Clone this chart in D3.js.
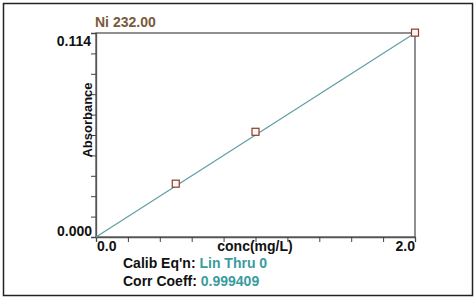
<!DOCTYPE html>
<html><head><meta charset="utf-8">
<script src="https://cdn.jsdelivr.net/npm/d3@7"></script>
<style>
html,body{margin:0;padding:0;background:#fff;}
svg{display:block;font-family:"Liberation Sans",Arial,Helvetica,sans-serif;font-weight:bold;}
</style></head>
<body><svg id="chart" width="476" height="300"></svg>
<script>
const title = "Ni 232.00";
const concentrations = [0.5, 1.0, 2.0];
const absorbances = [0.0298, 0.0588, 0.1142];
const fitLineX = [0.0, 2.0];
const fitLineY = [0.0, 0.114];
const xTickLabels = ["0.0", "2.0"];
const yTickLabels = ["0.000", "0.114"];
const xLabel = "conc(mg/L)";
const yLabel = "Absorbance";
const infoLabels = ["Calib Eq'n:", "Corr Coeff:"];
const infoValues = ["Lin Thru 0", "0.999409"];

const svg = d3.select("#chart");
const m = {left: 96, top: 33, right: 415, bottom: 237};
const x = d3.scaleLinear().domain([0, 2]).range([m.left, m.right]);
const y = d3.scaleLinear().domain([0, 0.114]).range([m.bottom, m.top]);

// outer frame
svg.append("rect").attr("x", 3.5).attr("y", 3.5).attr("width", 469).attr("height", 292)
  .attr("fill", "none").attr("stroke", "#222").attr("stroke-width", 1.5);

// plot frame
svg.append("rect").attr("x", m.left).attr("y", m.top).attr("width", m.right - m.left).attr("height", m.bottom - m.top)
  .attr("fill", "none").attr("stroke", "#555").attr("stroke-width", 1.3);

// axes ticks
const xAxis = d3.axisBottom(x).tickValues(d3.range(0, 11).map(i => i * 0.2)).tickSize(5).tickFormat("");
svg.append("g").attr("transform", `translate(0,${m.bottom})`).call(xAxis)
  .call(g => { g.select(".domain").attr("stroke", "#555").attr("stroke-width", 1.3); g.selectAll(".tick line").attr("stroke", "#444"); });
const yAxis = d3.axisLeft(y).tickValues(d3.range(0, 11).map(i => i * 0.0114)).tickSize(5).tickFormat("");
svg.append("g").attr("transform", `translate(${m.left},0)`).call(yAxis)
  .call(g => { g.select(".domain").attr("stroke", "#555").attr("stroke-width", 1.3); g.selectAll(".tick line").attr("stroke", "#444"); });

// fit line
const line = d3.line().x(d => x(d[0])).y(d => y(d[1]));
svg.append("path").datum(fitLineX.map((v, i) => [v, fitLineY[i]])).attr("d", line)
  .attr("fill", "none").attr("stroke", "#5f9ea3").attr("stroke-width", 1.2);

// points
svg.selectAll("rect.pt").data(concentrations.map((c, i) => [c, absorbances[i]])).enter()
  .append("rect").attr("class", "pt")
  .attr("x", d => x(d[0]) - 3.5).attr("y", d => y(d[1]) - 3.5).attr("width", 7).attr("height", 7)
  .attr("fill", "#fff8f4").attr("stroke", "#8a3a2c").attr("stroke-width", 1.2);

// title
svg.append("text").attr("x", 95).attr("y", 27).attr("fill", "#7a5a3c").attr("font-size", 14).text(title);

// y tick labels
svg.append("text").attr("x", 91).attr("y", 46).attr("text-anchor", "end").attr("font-size", 14).attr("fill", "#111").text(yTickLabels[1]);
svg.append("text").attr("x", 92).attr("y", 236).attr("text-anchor", "end").attr("font-size", 14).attr("fill", "#111").text(yTickLabels[0]);

// x tick labels
svg.append("text").attr("x", 97).attr("y", 251).attr("font-size", 14).attr("fill", "#111").text(xTickLabels[0]);
svg.append("text").attr("x", 415).attr("y", 251).attr("text-anchor", "end").attr("font-size", 14).attr("fill", "#111").text(xTickLabels[1]);

// axis labels
svg.append("text").attr("x", 255).attr("y", 251).attr("text-anchor", "middle").attr("font-size", 14).attr("fill", "#111").text(xLabel);
svg.append("text").attr("transform", "translate(92,120) rotate(-90)").attr("text-anchor", "middle").attr("font-size", 13).attr("fill", "#111").text(yLabel);

// info lines
infoLabels.forEach((lab, i) => {
  const t = svg.append("text").attr("x", 123).attr("y", 268 + i * 18).attr("font-size", 14);
  t.append("tspan").attr("fill", "#111").text(lab + " ");
  t.append("tspan").attr("fill", "#3a9c9e").text(infoValues[i]);
});
</script></body></html>
